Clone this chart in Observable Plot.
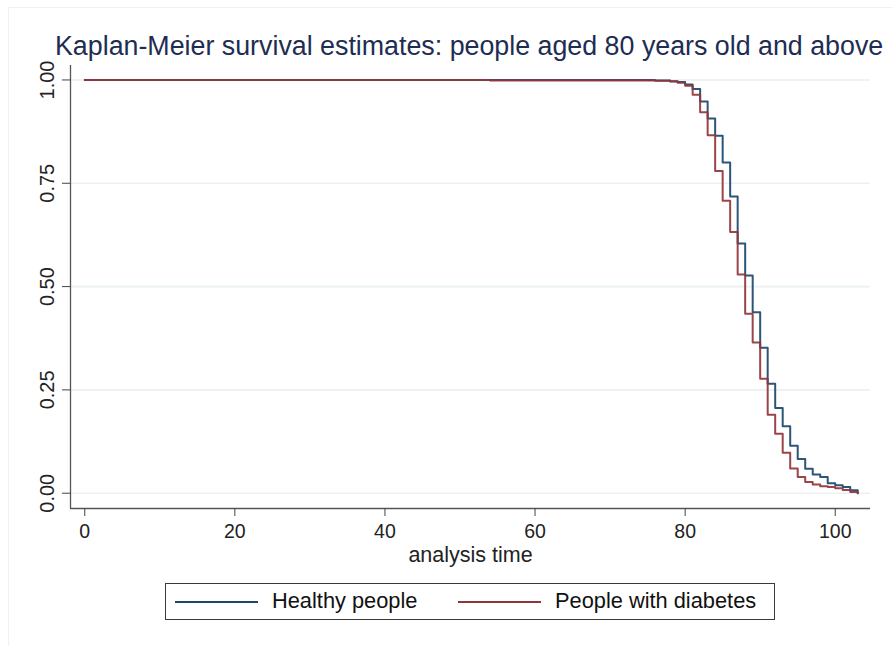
<!DOCTYPE html>
<html>
<head>
<meta charset="utf-8">
<script src="https://cdn.jsdelivr.net/npm/d3@7"></script>
<script src="https://cdn.jsdelivr.net/npm/@observablehq/plot@0.6"></script>
<style>
  html, body { margin: 0; padding: 0; background: #ffffff; }
  #wrap { position: relative; width: 892px; height: 646px; overflow: hidden; font-family: "Liberation Sans", Arial, sans-serif; }
  #outer { position: absolute; left: 8px; top: 7px; width: 900px; height: 700px; border-left: 1px solid #edf3f4; border-top: 1px solid #edf3f4; }
  #title { position: absolute; left: 55px; top: 31px; font-size: 26.8px; color: #1e2d52; white-space: nowrap; }
  #legend { position: absolute; left: 165px; top: 583px; width: 610px; height: 37px; border: 1px solid #3a3a3a; box-sizing: border-box; background: #fff; }
  .sw { position: absolute; top: 17px; width: 83px; height: 0; border-top: 2px solid; }
  .lt { position: absolute; top: 4px; font-size: 21.8px; color: #111; white-space: nowrap; }
  #chart { position: absolute; left: 0; top: 0; }
</style>
</head>
<body>
<div id="wrap">
  <div id="outer"></div>
  <div id="chart"></div>
  <div id="title"></div>
  <div id="legend"></div>
</div>
<script>
// ---- data ----
const title = "Kaplan-Meier survival estimates: people aged 80 years old and above";
const xLabel = "analysis time";
const seriesNames = ["Healthy people", "People with diabetes"];
const seriesColors = ["#1a476f", "#90353b"];
const xTicks = [0, 20, 40, 60, 80, 100];
const yTicks = [0, 0.25, 0.5, 0.75, 1];

const healthyTime = [0, 76, 78, 79, 80, 81, 82, 83, 84, 85, 86, 87, 88, 89, 90, 91, 92, 93, 94, 95, 96, 97, 98, 99, 100, 101, 102, 103];
const healthySurv = [1.0, 0.999, 0.997, 0.995, 0.989, 0.978, 0.948, 0.907, 0.865, 0.800, 0.718, 0.604, 0.527, 0.438, 0.352, 0.265, 0.206, 0.162, 0.115, 0.083, 0.059, 0.045, 0.039, 0.024, 0.019, 0.015, 0.007, 0.0];

const diabetesTime = [0, 54, 76, 78, 79, 80, 81, 82, 83, 84, 85, 86, 87, 88, 89, 90, 91, 92, 93, 94, 95, 96, 97, 98, 99, 100, 101, 102, 103];
const diabetesSurv = [1.0, 0.999, 0.998, 0.996, 0.993, 0.986, 0.964, 0.922, 0.866, 0.780, 0.708, 0.632, 0.529, 0.434, 0.365, 0.277, 0.190, 0.144, 0.098, 0.060, 0.039, 0.027, 0.021, 0.017, 0.015, 0.012, 0.008, 0.003, 0.0];

// ---- build table ----
const rows = [
  ...healthyTime.map((t, i) => ({t, s: healthySurv[i], g: seriesNames[0]})),
  ...diabetesTime.map((t, i) => ({t, s: diabetesSurv[i], g: seriesNames[1]}))
];

const xDomain = [-1.9, 104.7];
const yDomain = [-0.037, 1.035];

document.getElementById("title").textContent = title;

const plot = Plot.plot({
  width: 892,
  height: 646,
  marginLeft: 70,
  marginRight: 22,
  marginTop: 65,
  marginBottom: 138,
  style: {fontFamily: "Liberation Sans, Arial, sans-serif", background: "transparent", color: "#222"},
  x: {domain: xDomain},
  y: {domain: yDomain},
  color: {domain: seriesNames, range: seriesColors},
  marks: [
    Plot.ruleY(yTicks, {stroke: "#e9f1f2", strokeWidth: 1.6}),
    Plot.ruleX([xDomain[0]], {stroke: "#555", strokeWidth: 1.3}),
    Plot.ruleY([yDomain[0]], {stroke: "#555", strokeWidth: 1.3}),
    Plot.axisY({ticks: yTicks, tickFormat: d3.format(".2f"), tickRotate: -90, tickSize: 8, tickPadding: 9, fontSize: 20, label: null, stroke: "#444", fill: "#222"}),
    Plot.axisX({ticks: xTicks, tickFormat: d => String(d), tickSize: 8, tickPadding: 8, fontSize: 19.5, label: null, stroke: "#444", fill: "#222"}),
    Plot.text([xLabel], {frameAnchor: "bottom", dy: 53, fontSize: 21.5, fill: "#222"}),
    Plot.line(rows, {x: "t", y: "s", z: "g", stroke: "g", curve: "step-after", strokeWidth: 2, strokeOpacity: 0.92})
  ]
});
document.getElementById("chart").appendChild(plot);

// legend
const leg = document.getElementById("legend");
const swX = [9, 292];
const txX = [106, 389];
seriesNames.forEach((n, i) => {
  const sw = document.createElement("div");
  sw.className = "sw";
  sw.style.left = swX[i] + "px";
  sw.style.borderTopColor = seriesColors[i];
  leg.appendChild(sw);
  const tx = document.createElement("div");
  tx.className = "lt";
  tx.style.left = txX[i] + "px";
  tx.textContent = n;
  leg.appendChild(tx);
});
</script>
</body>
</html>
